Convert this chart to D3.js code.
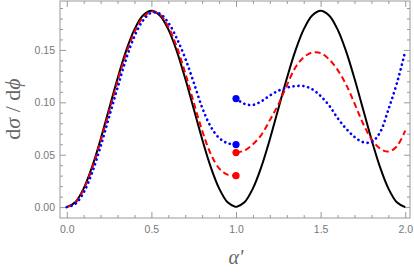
<!DOCTYPE html>
<html>
<head>
<meta charset="utf-8">
<script src="https://cdn.jsdelivr.net/npm/d3@7"></script>
<style>
  body { margin: 0; background: #fff; }
</style>
</head>
<body>
<div id="chart"></div>
<script>
// sample positions (alpha') for each branch
const alphaLeft  = [0, 0.05, 0.1, 0.15, 0.2, 0.25, 0.3, 0.35, 0.4, 0.45, 0.5,
                    0.55, 0.6, 0.65, 0.7, 0.75, 0.8, 0.85, 0.9, 0.95, 1.0];
const alphaRight = [1.0, 1.05, 1.1, 1.15, 1.2, 1.25, 1.3, 1.35, 1.4, 1.45, 1.5,
                    1.55, 1.6, 1.65, 1.7, 1.75, 1.8, 1.85, 1.9, 1.95, 2.0];

// black solid curve (continuous over 0..2)
const blackLeft  = [0, 0.0046, 0.0179, 0.0386, 0.0648, 0.0938, 0.1227, 0.1489, 0.1696, 0.1829, 0.1875,
                    0.1829, 0.1696, 0.1489, 0.1227, 0.0938, 0.0648, 0.0386, 0.0179, 0.0046, 0];
const blackRight = [0, 0.0046, 0.0179, 0.0386, 0.0648, 0.0938, 0.1227, 0.1489, 0.1696, 0.1829, 0.1875,
                    0.1829, 0.1696, 0.1489, 0.1227, 0.0938, 0.0648, 0.0386, 0.0179, 0.0046, 0];

// red dashed curve, two branches
const redLeft  = [0, 0.004, 0.017, 0.037, 0.063, 0.091, 0.120, 0.146, 0.167, 0.181, 0.1865,
                  0.184, 0.172, 0.153, 0.128, 0.100, 0.073, 0.051, 0.037, 0.031, 0.030];
const redRight = [0.052, 0.054, 0.060, 0.069, 0.083, 0.098, 0.116, 0.133, 0.143, 0.1475, 0.147,
                  0.141, 0.131, 0.117, 0.099, 0.080, 0.065, 0.056, 0.053, 0.058, 0.073];

// blue dotted curve, two branches
const blueLeft  = [0, 0.003, 0.014, 0.033, 0.058, 0.086, 0.114, 0.141, 0.163, 0.178, 0.1855,
                   0.1845, 0.176, 0.161, 0.142, 0.119, 0.095, 0.077, 0.066, 0.061, 0.0597];
const blueRight = [0.1036, 0.0985, 0.0975, 0.101, 0.1065, 0.111, 0.114, 0.1155, 0.1155, 0.1125, 0.106,
                   0.097, 0.085, 0.075, 0.067, 0.062, 0.062, 0.071, 0.093, 0.118, 0.1485];

// end points marked at alpha' = 1
const redDots  = [0.030, 0.052];
const blueDots = [0.0597, 0.1036];

const xMajor = [0, 0.5, 1.0, 1.5, 2.0];
const yMajor = [0, 0.05, 0.10, 0.15];

let width = 414,
    height = 273;

let frame = { left: 60, right: 410, top: 1, bottom: 218 };

let svg = d3.select('#chart')
    .append('svg')
    .attr('width', width)
    .attr('height', height);

let xScale = d3.scaleLinear()
    .domain([-0.04, 2.028])
    .range([frame.left, frame.right]);

let yScale = d3.scaleLinear()
    .domain([-0.0104, 0.1967])
    .range([frame.bottom, frame.top]);

const tickColor = '#999';
const labelColor = '#777';

// minor ticks
const xMinor = d3.range(0, 2.001, 0.1).filter(v => Math.abs(v * 2 - Math.round(v * 2)) > 1e-6);
const yMinor = d3.range(0, 0.1961, 0.01).filter(v => Math.abs(v * 20 - Math.round(v * 20)) > 1e-6);

function styleAxis(g) {
    g.select('.domain').remove();
    g.selectAll('.tick line').attr('stroke', tickColor);
    g.selectAll('.tick text')
        .attr('fill', labelColor)
        .style('font-family', '"Liberation Sans", Arial, sans-serif')
        .style('font-size', '10.5px');
}

// bottom
svg.append('g')
    .attr('transform', `translate(0, ${frame.bottom})`)
    .call(d3.axisBottom(xScale).tickValues(xMajor).tickFormat(d3.format('.1f')).tickSize(-6).tickPadding(8))
    .call(styleAxis);
svg.append('g')
    .attr('transform', `translate(0, ${frame.bottom})`)
    .call(d3.axisBottom(xScale).tickValues(xMinor).tickFormat('').tickSize(-3))
    .call(styleAxis);

// top
svg.append('g')
    .attr('transform', `translate(0, ${frame.top})`)
    .call(d3.axisTop(xScale).tickValues(xMajor).tickFormat('').tickSize(-6))
    .call(styleAxis);
svg.append('g')
    .attr('transform', `translate(0, ${frame.top})`)
    .call(d3.axisTop(xScale).tickValues(xMinor).tickFormat('').tickSize(-3))
    .call(styleAxis);

// left
svg.append('g')
    .attr('transform', `translate(${frame.left}, 0)`)
    .call(d3.axisLeft(yScale).tickValues(yMajor).tickFormat(d3.format('.2f')).tickSize(-6).tickPadding(5))
    .call(styleAxis);
svg.append('g')
    .attr('transform', `translate(${frame.left}, 0)`)
    .call(d3.axisLeft(yScale).tickValues(yMinor).tickFormat('').tickSize(-3))
    .call(styleAxis);

// right
svg.append('g')
    .attr('transform', `translate(${frame.right}, 0)`)
    .call(d3.axisRight(yScale).tickValues(yMajor).tickFormat('').tickSize(-6))
    .call(styleAxis);
svg.append('g')
    .attr('transform', `translate(${frame.right}, 0)`)
    .call(d3.axisRight(yScale).tickValues(yMinor).tickFormat('').tickSize(-3))
    .call(styleAxis);

// frame
svg.append('rect')
    .attr('x', frame.left)
    .attr('y', frame.top)
    .attr('width', frame.right - frame.left)
    .attr('height', frame.bottom - frame.top)
    .attr('fill', 'none')
    .attr('stroke', tickColor)
    .attr('stroke-width', 1);

// curves
const line = d3.line()
    .x(d => xScale(d[0]))
    .y(d => yScale(d[1]))
    .curve(d3.curveCatmullRom.alpha(0.5));

function drawCurve(xs, ys, color, dash, cap, w) {
    svg.append('path')
        .datum(d3.zip(xs, ys))
        .attr('d', line)
        .attr('fill', 'none')
        .attr('stroke', color)
        .attr('stroke-width', w)
        .attr('stroke-linecap', cap)
        .attr('stroke-dasharray', dash);
}

drawCurve(alphaLeft, blackLeft, '#000', null, 'butt', 2);
drawCurve(alphaRight, blackRight, '#000', null, 'butt', 2);
drawCurve(alphaLeft, redLeft, '#ff0000', '6,3.5', 'butt', 2);
drawCurve(alphaRight, redRight, '#ff0000', '6,3.5', 'butt', 2);
drawCurve(alphaLeft, blueLeft, '#0000ff', '0.1,4.8', 'round', 2.7);
drawCurve(alphaRight, blueRight, '#0000ff', '0.1,4.8', 'round', 2.7);

// end-point dots
svg.selectAll('.red-dot')
    .data(redDots)
    .enter()
    .append('circle')
    .attr('cx', xScale(1.0))
    .attr('cy', d => yScale(d))
    .attr('r', 3.6)
    .attr('fill', '#ff0000');

svg.selectAll('.blue-dot')
    .data(blueDots)
    .enter()
    .append('circle')
    .attr('cx', xScale(1.0))
    .attr('cy', d => yScale(d))
    .attr('r', 3.6)
    .attr('fill', '#0000ff');

// x-axis label
svg.append('text')
    .attr('x', xScale(1.0))
    .attr('y', 264)
    .attr('text-anchor', 'middle')
    .attr('fill', '#666')
    .style('font-family', '"Liberation Serif", "Times New Roman", serif')
    .style('font-size', '20px')
    .style('font-style', 'italic')
    .text("α'");

// y-axis label
let ylab = svg.append('text')
    .attr('transform', `translate(20, 109) rotate(-90)`)
    .attr('text-anchor', 'middle')
    .attr('fill', '#666')
    .style('font-family', '"Liberation Serif", "Times New Roman", serif')
    .style('font-size', '22px');
ylab.append('tspan').text('d');
ylab.append('tspan').style('font-style', 'italic').text('σ');
ylab.append('tspan').text(' / d');
ylab.append('tspan').style('font-style', 'italic').text('ϕ');
</script>
</body>
</html>
